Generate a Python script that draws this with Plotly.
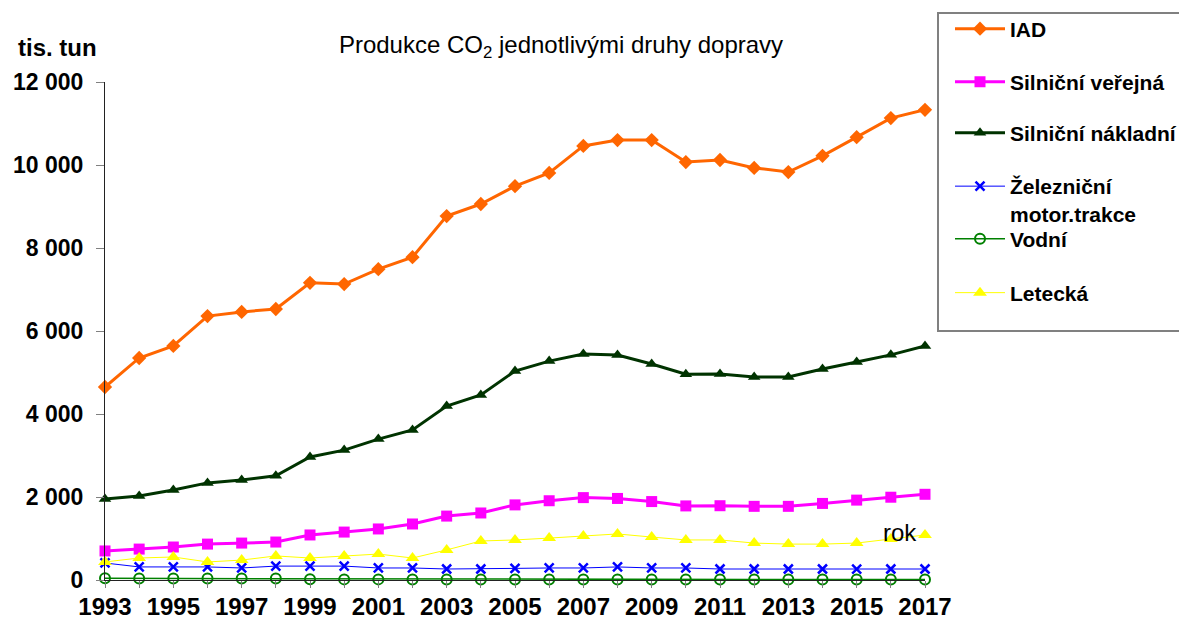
import plotly.graph_objects as go

years = list(range(1993, 2018))

iad = [4650, 5350, 5640, 6360, 6460, 6530, 7160, 7130, 7490, 7780, 8770, 9060,
       9490, 9810, 10460, 10600, 10600, 10070, 10120, 9930, 9830, 10220, 10670, 11130, 11330]
silnicni_verejna = [700, 745, 795, 865, 890, 915, 1085, 1155, 1230, 1350, 1540, 1615,
                    1810, 1910, 1985, 1965, 1890, 1785, 1790, 1775, 1775, 1845, 1925, 1995, 2065]
silnicni_nakladni = [1950, 2025, 2170, 2340, 2410, 2510, 2965, 3130, 3395, 3615, 4190, 4460,
                     5035, 5275, 5445, 5420, 5205, 4960, 4965, 4890, 4890, 5085, 5255, 5425, 5640]
zeleznicni = [410, 315, 315, 315, 290, 335, 335, 335, 290, 290, 265, 265,
              280, 290, 290, 315, 290, 290, 265, 265, 265, 265, 260, 265, 265]
vodni = [40, 38, 38, 36, 35, 35, 20, 15, 15, 12, 12, 12,
         12, 12, 12, 10, 10, 10, 10, 10, 10, 10, 10, 10, 10]
letecka = [435, 530, 555, 435, 480, 580, 530, 580, 625, 530, 725, 940,
           965, 1010, 1060, 1110, 1035, 965, 965, 890, 865, 865, 890, 990, 1085]

names = ["IAD", "Silniční veřejná", "Silniční nákladní", "Železniční<br>motor.trakce", "Vodní", "Letecká"]
values = [iad, silnicni_verejna, silnicni_nakladni, zeleznicni, vodni, letecka]

styles = [
    ("#FF6600", 3, dict(symbol="diamond", size=11, color="#FF6600")),
    ("#FF00FF", 3, dict(symbol="square", size=11, color="#FF00FF")),
    ("#003300", 3, dict(symbol="triangle-up", size=11, color="#003300")),
    ("#0000FF", 1, dict(symbol="x-thin", size=9, color="#0000FF", line=dict(color="#0000FF", width=2.5))),
    ("#008000", 1.5, dict(symbol="circle-open", size=10, color="#008000", line=dict(color="#008000", width=2))),
    ("#FFFF00", 1, dict(symbol="triangle-up", size=12, color="#FFFF00")),
]
# vertical centre (reference pixels) of each legend entry
legend_centres = [29, 82, 133, 200, 239, 293]

FONT = "Liberation Sans, Arial, sans-serif"

# page is offset by the browser's 8px body margin; work in reference pixels
OFF = 8
W, H = 1187 - OFF, 619 - OFF
PL, PT, PW, PH = 105, 82, 820, 498


def px(X):
    return (X - PL) / PW


def py(Y):
    return (PT + PH - Y) / PH


fig = go.Figure()
legends = {}
for i, (name, vals, (col, lw, mk)) in enumerate(zip(names, values, styles)):
    lid = "legend" if i == 0 else f"legend{i + 1}"
    fig.add_trace(go.Scatter(
        x=years, y=vals, name=name, mode="lines+markers",
        line=dict(color=col, width=lw), marker=mk, cliponaxis=False,
        legend=lid,
    ))
    legends[lid] = dict(
        x=px(950), xanchor="left",
        y=py(legend_centres[i]), yanchor="middle",
        borderwidth=0, bgcolor="rgba(0,0,0,0)",
        font=dict(family=FONT, size=21, color="black", weight="bold"),
        valign="top", itemwidth=50,
    )

fig.update_layout(
    width=W, height=H,
    margin=dict(l=PL - OFF, r=W - (PL - OFF) - PW, t=PT - OFF, b=H - (PT - OFF) - PH, autoexpand=False),
    paper_bgcolor="white", plot_bgcolor="white",
    font=dict(family=FONT, color="black"),
    separators=", ",
    showlegend=True,
    title=dict(
        text="Produkce CO<sub>2</sub> jednotlivými druhy dopravy",
        x=(561 - OFF) / W, xanchor="center", xref="container",
        y=1 - (45 - OFF) / H, yanchor="middle", yref="container",
        font=dict(family=FONT, size=24, color="black"),
    ),
    xaxis=dict(
        range=[1993, 2017], tickmode="linear", tick0=1993, dtick=2,
        showgrid=False, zeroline=False, showline=True, linecolor="#222", linewidth=1,
        ticks="outside", ticklen=7, tickcolor="#808080", ticklabelstandoff=-2,
        minor=dict(dtick=1, tick0=1993, ticks="outside", ticklen=7, tickcolor="#808080", showgrid=False),
        tickfont=dict(family=FONT, size=24, color="black", weight="bold"),
    ),
    yaxis=dict(
        range=[0, 12000], tickmode="linear", tick0=0, dtick=2000,
        showgrid=False, zeroline=False, showline=True, linecolor="#222", linewidth=1,
        ticks="outside", ticklen=8, tickcolor="#808080", ticklabelstandoff=8,
        tickformat=",d",
        tickfont=dict(family=FONT, size=23, color="black", weight="bold"),
    ),
    shapes=[
        dict(type="rect", xref="paper", yref="paper",
             x0=px(938), x1=px(1210), y0=py(331), y1=py(13),
             line=dict(color="#808080", width=2), fillcolor="rgba(0,0,0,0)", layer="below"),
    ],
    annotations=[
        dict(text="tis. tun", xref="paper", yref="paper", x=px(57), y=py(47),
             xanchor="center", yanchor="middle", showarrow=False,
             font=dict(family=FONT, size=24, color="black", weight="bold")),
        dict(text="rok", xref="paper", yref="paper", x=px(900), y=py(532),
             xanchor="center", yanchor="middle", showarrow=False,
             font=dict(family=FONT, size=24, color="black")),
    ],
    **legends,
)

fig.write_html("out.html")
